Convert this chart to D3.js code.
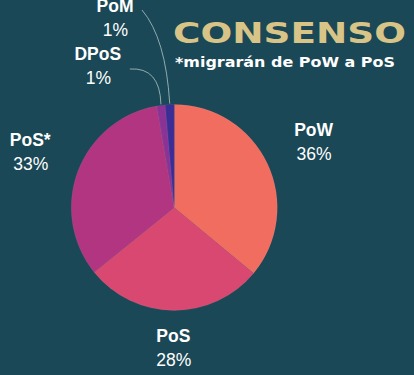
<!DOCTYPE html>
<html><head><meta charset="utf-8">
<script src="https://cdn.jsdelivr.net/npm/d3@7"></script>
<style>html,body{margin:0;padding:0;background:#1b4856;}svg{display:block;}</style>
</head><body>
<svg id="c" width="414" height="375"></svg>
<script>
const categories = ["PoW", "PoS", "PoS*", "DPoS", "PoM"];
const values = [36.0, 28.2, 33.1, 1.3, 1.4];
const percentLabels = ["36%", "28%", "33%", "1%", "1%"];
const colors = ["#f16d5f", "#d94870", "#b23582", "#8b3297", "#3b2d96"];
const title = "CONSENSO";
const subtitle = "*migrarán de PoW a PoS";

const W = 414, H = 375, cx = 174.3, cy = 207.5, R = 103;
const svg = d3.select("#c");
svg.append("rect").attr("width", W).attr("height", H).attr("fill", "#1b4856");

const pie = d3.pie().sort(null).value(d => d)(values);
const arc = d3.arc().innerRadius(0).outerRadius(R);
const g = svg.append("g").attr("transform", `translate(${cx},${cy})`);
g.selectAll("path").data(pie).join("path")
  .attr("d", arc).attr("fill", (d, i) => colors[i])
  .attr("stroke", "rgba(255,255,255,0.12)").attr("stroke-width", 0.5);

// label layout (ellipse around the pie for big slices, fixed offsets for small ones)
const rx = 154, ry = 145;
const manual = { 3: [-76.5, -137.5], 4: [-59.3, -185.5] };
const labelPos = pie.map((d, i) => {
  if (manual[i]) return manual[i];
  const a = (d.startAngle + d.endAngle) / 2;
  return [rx * Math.sin(a), -ry * Math.cos(a)];
});
const font = "'Liberation Sans', Arial, sans-serif";
const lg = g.append("g");
pie.forEach((d, i) => {
  const [x, y] = labelPos[i];
  lg.append("text").attr("x", x).attr("y", y - 10).attr("text-anchor", "middle")
    .attr("font-family", font).attr("font-weight", "bold").attr("font-size", 17.5)
    .attr("fill", "#ffffff").text(categories[i]);
  lg.append("text").attr("x", x + 0.5).attr("y", y + 14).attr("text-anchor", "middle")
    .attr("font-family", font).attr("font-size", 17.5)
    .attr("fill", "#ffffff").text(percentLabels[i]);
});

// leader lines for small slices
const edgeArc = d3.arc().innerRadius(R + 1).outerRadius(R + 1);
[3, 4].forEach(i => {
  const [ex, ey] = edgeArc.centroid(pie[i]);
  const [lx, ly] = labelPos[i];
  const sx = i === 3 ? lx + 32 : lx + 27;
  const sy = i === 3 ? ly - 1 : ly - 12;
  const path = d3.path();
  path.moveTo(sx, sy);
  if (i === 3) path.quadraticCurveTo(ex - 1, sy - 2, ex, ey);
  else path.quadraticCurveTo(ex - 4, sy + 28, ex, ey);
  lg.append("path").attr("d", path.toString()).attr("fill", "none")
    .attr("stroke", "#9fb4ba").attr("stroke-width", 0.9);
});

// title
svg.append("text").attr("x", 173).attr("y", 43)
  .attr("font-family", "'DejaVu Sans', sans-serif").attr("font-weight", "bold")
  .attr("font-size", 28).attr("fill", "#d8c487")
  .attr("textLength", 233).attr("lengthAdjust", "spacingAndGlyphs").text(title);
svg.append("text").attr("x", 175).attr("y", 67)
  .attr("font-family", "'DejaVu Sans', sans-serif").attr("font-weight", "bold")
  .attr("font-size", 14.5).attr("fill", "#ffffff")
  .attr("textLength", 220).attr("lengthAdjust", "spacingAndGlyphs").text(subtitle);
</script>
</body></html>
